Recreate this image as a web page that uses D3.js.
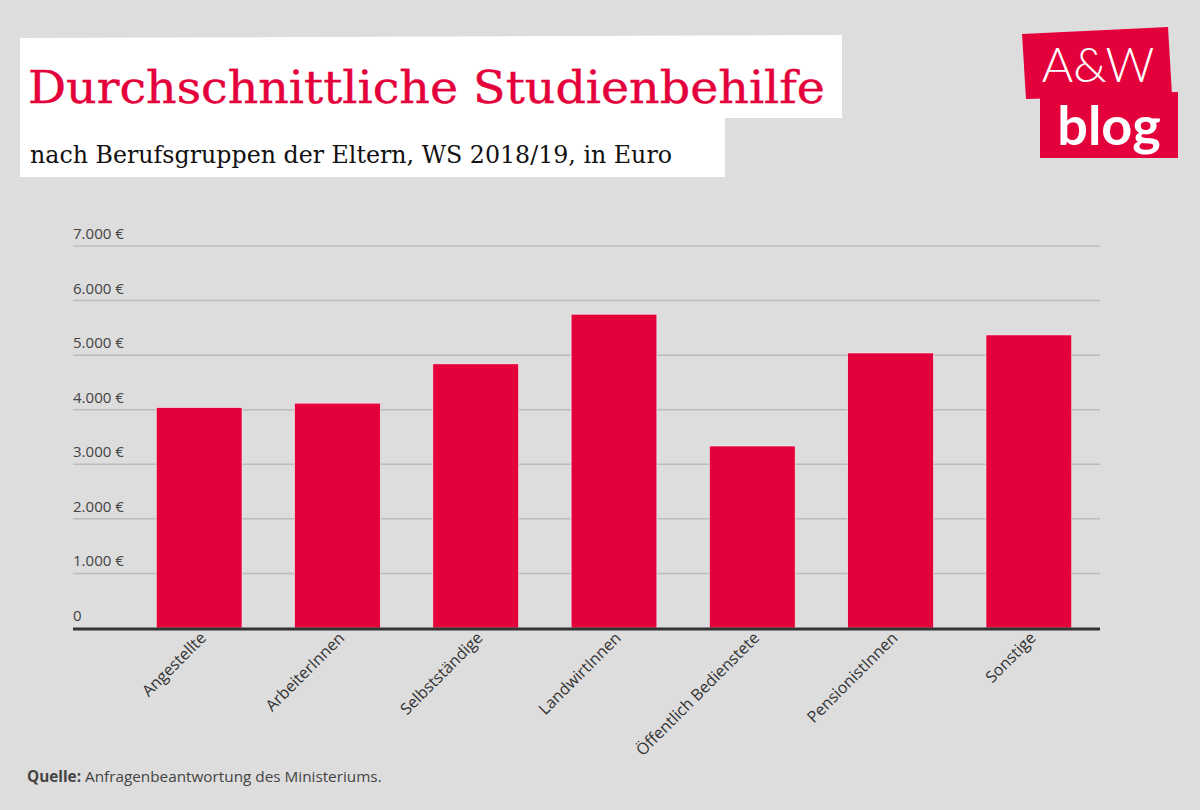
<!DOCTYPE html>
<html><head><meta charset="utf-8">
<script src="https://cdn.jsdelivr.net/npm/d3@7"></script>
<style>
html,body{margin:0;padding:0;background:#dddddd;}
svg{display:block;}
</style></head>
<body>
<svg id="chart" width="1200" height="810"></svg>
<script>
const categories = ["Angestellte","ArbeiterInnen","Selbstständige","LandwirtInnen","Öffentlich Bedienstete","PensionistInnen","Sonstige"];
const values = [4040, 4120, 4840, 5750, 3335, 5040, 5370];
const yTicks = [0,1000,2000,3000,4000,5000,6000,7000];
const yTickLabels = ["0","1.000 €","2.000 €","3.000 €","4.000 €","5.000 €","6.000 €","7.000 €"];
const titleText = "Durchschnittliche Studienbehilfe";
const subtitleText = "nach Berufsgruppen der Eltern, WS 2018/19, in Euro";

const red = "#e4003a";
const svg = d3.select("#chart");
svg.append("rect").attr("width",1200).attr("height",810).attr("fill","#dddddd");

// header boxes
svg.append("path").attr("d","M20,38 L842,35 L842,118 L725,118 L725,177 L20,177 Z").attr("fill","#ffffff");
svg.append("text").attr("x",28).attr("y",103).text(titleText)
  .attr("font-family","DejaVu Serif").attr("font-size",44).attr("fill",red)
  .attr("stroke",red).attr("stroke-width",0.4)
  .attr("textLength",797).attr("lengthAdjust","spacingAndGlyphs");
svg.append("text").attr("x",30).attr("y",163).text(subtitleText)
  .attr("font-family","DejaVu Serif").attr("font-size",25).attr("fill","#111")
  .attr("textLength",642).attr("lengthAdjust","spacingAndGlyphs");

// logo
const logo = svg.append("g");
logo.append("path").attr("d","M1022,34 L1168,27 L1172,95 L1026,99 Z").attr("fill",red);
logo.append("path").attr("d","M1040,95 L1178,92 L1178,158 L1040,158 Z").attr("fill",red);
logo.append("text").attr("x",1098).attr("y",82).attr("text-anchor","middle").text("A&W")
  .attr("font-family","Lato").attr("font-weight",300).attr("font-size",48).attr("fill","#fff");
logo.append("text").attr("x",1109).attr("y",145).attr("text-anchor","middle").text("blog")
  .attr("font-family","Lato").attr("font-weight",700).attr("font-size",54).attr("fill","#fff");

// chart
const x = d3.scaleBand().domain(categories).range([130,1098]).paddingInner(0.38).paddingOuter(0.19);
const y = d3.scaleLinear().domain([0,7000]).range([628,246]);
const gridX0 = 73, gridX1 = 1100;

const grid = svg.append("g");
grid.selectAll("line").data(yTicks.filter(d=>d>0)).join("line")
  .attr("x1",gridX0).attr("x2",gridX1).attr("y1",d=>y(d)).attr("y2",d=>y(d))
  .attr("stroke","#bcbcbc").attr("stroke-width",1.5);

svg.append("g").selectAll("text").data(yTicks).join("text")
  .attr("x",73).attr("y",d=>y(d)-7).text((d,i)=>yTickLabels[i])
  .attr("font-family","Open Sans").attr("font-size",15).attr("fill","#444")
  .attr("textLength",(d,i)=>i===0?null:51).attr("lengthAdjust","spacingAndGlyphs");

svg.append("g").selectAll("rect").data(values).join("rect")
  .attr("x",(d,i)=>x(categories[i])).attr("width",x.bandwidth())
  .attr("y",d=>y(d)).attr("height",d=>y(0)-y(d)).attr("fill",red)
  .attr("stroke","#f2f2f2").attr("stroke-width",0.6);

svg.append("line").attr("x1",gridX0).attr("x2",gridX1).attr("y1",y(0)+1).attr("y2",y(0)+1)
  .attr("stroke","#333").attr("stroke-width",3);

svg.append("g").selectAll("text").data(categories).join("text")
  .attr("transform",d=>`translate(${x(d)+x.bandwidth()/2+8},${y(0)+11}) rotate(-45)`)
  .attr("text-anchor","end").text(d=>d)
  .attr("font-family","Open Sans").attr("font-size",16).attr("fill","#333");

// source
const src = svg.append("text").attr("x",27).attr("y",782)
  .attr("font-family","Open Sans").attr("font-size",15.3).attr("fill","#444");
src.append("tspan").attr("font-weight",700).text("Quelle:");
src.append("tspan").text(" Anfragenbeantwortung des Ministeriums.");
</script>
</body></html>
